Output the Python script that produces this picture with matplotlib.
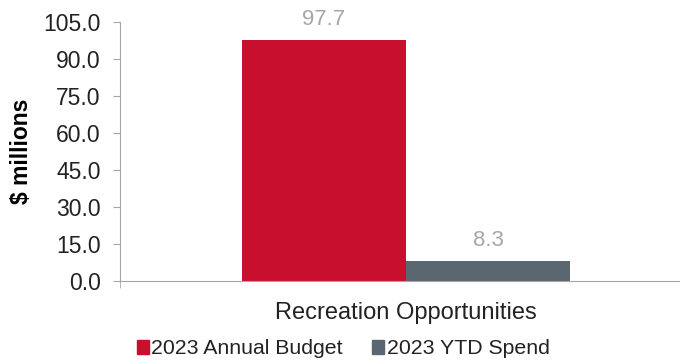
import matplotlib
matplotlib.use("Agg")
import matplotlib.pyplot as plt
from matplotlib.patches import Patch

plt.rcParams['font.family'] = ['Liberation Sans', 'DejaVu Sans']

categories = ["Recreation Opportunities"]
series_names = ["2023 Annual Budget", "2023 YTD Spend"]
budget = [97.7]
spend = [8.3]
yticks = [0, 15, 30, 45, 60, 75, 90, 105]
colors = ["#C8102E", "#5B6770"]

fig = plt.figure(figsize=(6.8, 3.62), dpi=100)
ax = fig.add_axes([120/680, (362-281)/362, 560/680, (281-22)/362])

ax.bar([-0.5], budget, width=1.0, color=colors[0])
ax.bar([0.5], spend, width=1.0, color=colors[1])
for x, v in [(-0.5, budget[0]), (0.5, spend[0])]:
    ax.annotate(f"{v:.1f}", (x, v), xytext=(0, 7), textcoords="offset points",
                ha="center", va="bottom", color="#A6A6A6", fontsize=16)

xmin, xmax = -286/164, 274/164
ax.set_xlim(xmin, xmax)
ax.set_ylim(0, 105)
ax.set_yticks(yticks)
ax.set_yticklabels([f"{t:.1f}" for t in yticks], fontsize=16.5, color="#222222")
ax.set_xticks([0])
ax.set_xticklabels(categories, fontsize=17, color="#222222")
ax.set_xticks([xmin], minor=True)
ax.tick_params(axis='x', which='major', length=0, pad=15)
ax.tick_params(axis='x', which='minor', length=5, color="#A6A6A6")
ax.tick_params(axis='y', length=5, color="#A6A6A6", pad=9)
for s in ["top", "right"]:
    ax.spines[s].set_visible(False)
ax.spines["left"].set_color("#A6A6A6")
ax.spines["bottom"].set_color("#A6A6A6")
ax.set_ylabel("$ millions", fontsize=16.5, fontweight="bold", labelpad=7)

handles = [Patch(color=c) for c in colors]
fig.legend(handles, series_names, loc="center", bbox_to_anchor=(343/680, 1-349/362),
           ncol=2, frameon=False, fontsize=15.3, handlelength=0.6, handleheight=0.6,
           handletextpad=0.1, columnspacing=1.35, labelcolor="#222222")

fig.savefig("out.png", dpi=100)
